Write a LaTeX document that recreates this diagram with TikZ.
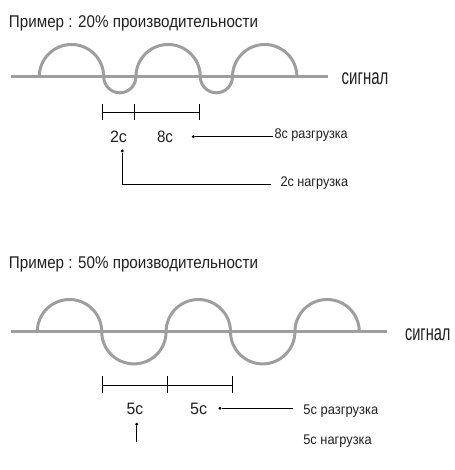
\documentclass[tikz,border=0pt]{standalone}
\usepackage{fontspec}
\setmainfont{Liberation Sans}
\usetikzlibrary{calc}

% squeeze a text horizontally to a given width, keeping its height
\newlength\fitlen
\newcommand\fitto[2]{\settowidth\fitlen{#2}\pgfmathsetmacro\fitratio{#1/\fitlen}\scalebox{\fitratio}[1]{#2}}

\tikzset{
  signal/.style={draw=black!38, line width=3pt},
  thin/.style={draw=black, line width=0.9pt},
  dotmark/.style={circle, fill=black, inner sep=0pt, minimum size=3.2pt},
  txt/.style={inner sep=0pt, outer sep=0pt, text=black!88},
  title/.style={txt, anchor=base west, font=\fontsize{17}{20}\selectfont},
  siglab/.style={txt, anchor=base west, font=\fontsize{22}{25}\selectfont},
  dur/.style={txt, anchor=base, font=\fontsize{16.5}{19}\selectfont},
  side/.style={txt, anchor=base west, font=\fontsize{14}{16}\selectfont},
}

\begin{document}
\begin{tikzpicture}[x=1pt,y=1pt]
\useasboundingbox (0,0) rectangle (454,470);

%% ---------- example 1: 20 % ----------
\node[title] (title1) at (9,442.5) {\fitto{249pt}{Пример : 20\% производительности}};

\coordinate (s1a) at (11,393.3);
\coordinate (s1b) at (328,393.3);
\draw[signal] (s1a) -- (s1b);
\draw[signal] (39.3,393.3)
  arc[start angle=180,end angle=0,radius=32.2]
  arc[start angle=180,end angle=360,radius=16.1]
  arc[start angle=180,end angle=0,radius=32.2]
  arc[start angle=180,end angle=360,radius=16.1]
  arc[start angle=180,end angle=0,radius=32.2];
\node[siglab] (sig1) at (341.7,385) {\fitto{46.7pt}{сигнал}};

% time bar
\coordinate (b1a) at (102,357.7);
\coordinate (b1b) at (134,357.7);
\coordinate (b1c) at (199,357.7);
\draw[thin] (b1a) -- (b1c);
\foreach \p in {b1a,b1b,b1c}
  \draw[thin] ($(\p)+(0,8)$) -- ($(\p)-(0,8)$);

\node[dur] (on1) at (118.5,327.3) {\fitto{17pt}{2с}};
\node[dur] (off1) at (165,327.3) {\fitto{16pt}{8с}};

\node[dotmark] (d1off) at (193.3,333.3) {};
\node[side] (t1off) at (274.5,331.7) {\fitto{73.3pt}{8с разгрузка}};
\draw[thin] (d1off) -- ($(t1off.west |- d1off)+(-1.5,0)$);

\node[dotmark] (d1on) at (122.3,319) {};
\node[side] (t1on) at (280.5,283) {\fitto{67.6pt}{2с нагрузка}};
\coordinate (k1) at (122.3,285.7);
\draw[thin] (d1on) -- (k1) -- ($(k1 -| t1on.west)+(-10,0)$);

%% ---------- example 2: 50 % ----------
\node[title] (title2) at (9,201) {\fitto{249pt}{Пример : 50\% производительности}};

\coordinate (s2a) at (11,138.3);
\coordinate (s2b) at (386.7,138.3);
\draw[signal] (s2a) -- (s2b);
\draw[signal] (37.3,138.3)
  arc[start angle=180,end angle=0,radius=32.2]
  arc[start angle=180,end angle=360,radius=32.2]
  arc[start angle=180,end angle=0,radius=32.2]
  arc[start angle=180,end angle=360,radius=32.2]
  arc[start angle=180,end angle=0,radius=32.2];
\node[siglab] (sig2) at (405,129) {\fitto{45.5pt}{сигнал}};

% time bar
\coordinate (b2a) at (102.3,85);
\coordinate (b2b) at (167.3,85);
\coordinate (b2c) at (232.3,85);
\draw[thin] (b2a) -- (b2c);
\foreach \p in {b2a,b2b,b2c}
  \draw[thin] ($(\p)+(0,8.5)$) -- ($(\p)-(0,8.5)$);

\node[dur] (on2) at (135,55) {\fitto{16.6pt}{5с}};
\node[dur] (off2) at (198.7,55) {\fitto{17pt}{5с}};

\node[dotmark] (d2off) at (220,61.7) {};
\node[side] (t2off) at (303.3,55) {\fitto{75pt}{5с разгрузка}};
\draw[thin] (d2off) -- ($(t2off.west |- d2off)+(-10,0)$);

\node[dotmark] (d2on) at (136.7,45.7) {};
\coordinate (k2) at (136.7,28.3);
\draw[thin] (d2on) -- (k2);
\node[side] (t2on) at (303.3,25) {\fitto{68.4pt}{5с нагрузка}};
\end{tikzpicture}
\end{document}
